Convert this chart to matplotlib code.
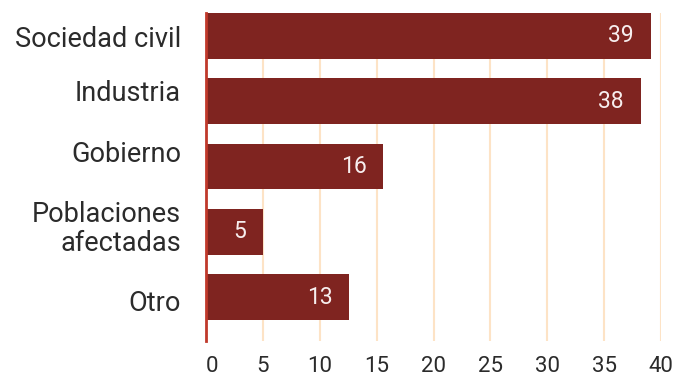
import matplotlib.pyplot as plt

categories = ["Sociedad civil", "Industria", "Gobierno", "Poblaciones\nafectadas", "Otro"]
values = [39.1, 38.2, 15.6, 5.0, 12.6]
labels = ["39", "38", "16", "5", "13"]
xticks = [0, 5, 10, 15, 20, 25, 30, 35, 40]

bar_color = "#7f2420"
grid_color = "#fde3c6"
text_color = "#2b2b2b"

# vertical nudges of the category labels (in bar units), as in the original layout
label_shift = [0.01, -0.16, -0.23, -0.11, 0.05]

plt.rcParams["font.family"] = ["Roboto", "DejaVu Sans"]

fig = plt.figure(figsize=(6.87, 3.77), dpi=100)
ax = fig.add_axes([206 / 687, 36 / 377, 455 / 687, 328 / 377])

ypos = list(range(len(categories)))
ax.barh(ypos, values, height=0.7, color=bar_color, zorder=3)

for y, v, lab in zip(ypos, values, labels):
    ax.text(v - 1.5, y, lab, ha="right", va="center", color="#f7eeee",
            fontsize=16.5, zorder=4)

ax.set_xlim(0, 40)
ax.set_ylim(4.67, -0.35)
ax.set_xticks(xticks)
ax.set_xticklabels([str(t) for t in xticks], fontsize=16, color=text_color)
ax.get_xticklabels()[0].set_ha("left")
ax.set_yticks([y + d for y, d in zip(ypos, label_shift)])
ax.set_yticklabels(categories, fontsize=19.5, color=text_color, linespacing=1.1)
ax.tick_params(axis="both", length=0)
ax.tick_params(axis="y", pad=18)
ax.tick_params(axis="x", pad=11)

ax.grid(axis="x", color=grid_color, linewidth=1.5, zorder=0)
ax.grid(axis="y", visible=False)
for s in ["top", "right", "bottom"]:
    ax.spines[s].set_visible(False)
ax.spines["left"].set_color("#c0392b")
ax.spines["left"].set_linewidth(2)
ax.spines["left"].set_zorder(5)

fig.savefig("out.png", dpi=100)
